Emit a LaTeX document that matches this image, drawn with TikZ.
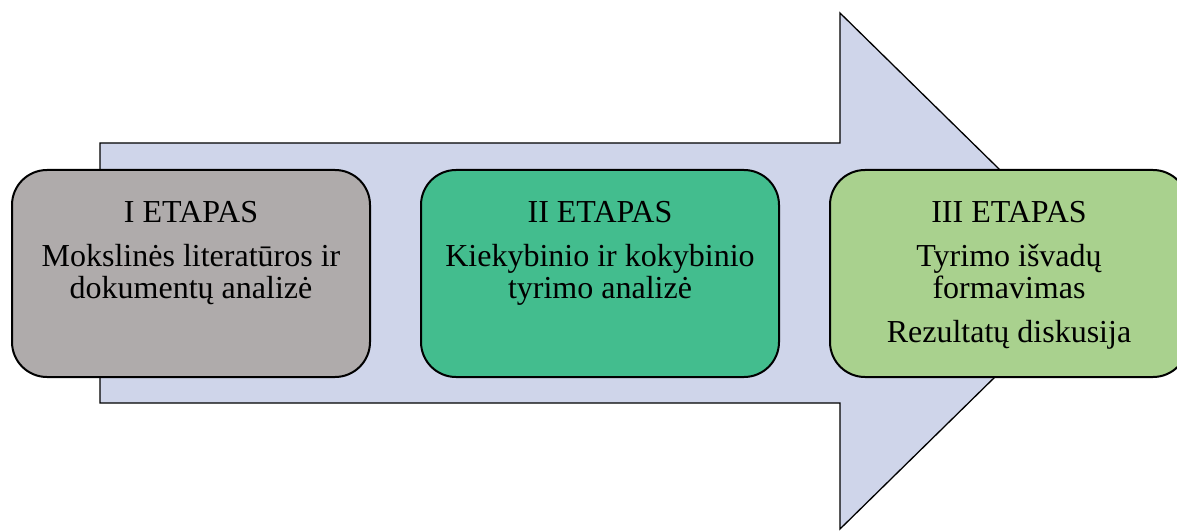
\documentclass[tikz,border=0pt]{standalone}
\usepackage{fontspec}
\setmainfont{Liberation Serif}
\usetikzlibrary{positioning}

\definecolor{arrowfill}{HTML}{CFD5EA}
\definecolor{stageone}{HTML}{AFABAB}
\definecolor{stagetwo}{HTML}{43BD8E}
\definecolor{stagethree}{HTML}{A9D18E}

\tikzset{
    stage/.style={draw, line width=1pt, rounded corners=17.5pt,
        minimum width=179pt, minimum height=103.5pt, inner sep=0pt},
    stagetext/.style={anchor=north, align=center, inner sep=0pt,
        font=\fontsize{16}{16}\selectfont}
}

\begin{document}
\begin{tikzpicture}[x=0.5pt, y=0.5pt]
    \useasboundingbox (0,0) rectangle (1177,531);

    % Big arrow behind the stages
    \draw[line width=0.65pt, fill=arrowfill]
        (100,388) -- (840,388) -- (840,518) -- (1103,260)
        -- (840,2) -- (840,128) -- (100,128) -- cycle;

    % Stage I
    \node[stage, fill=stageone] (s1) at (191,257.5) {};
    \node[stagetext, below=16pt of s1.north] (t1)
        {I ETAPAS\\[6pt] Mokslinės literatūros ir\\ dokumentų analizė};

    % Stage II
    \node[stage, fill=stagetwo] (s2) at (600,257.5) {};
    \node[stagetext, below=16pt of s2.north] (t2)
        {II ETAPAS\\[6pt] Kiekybinio ir kokybinio\\ tyrimo analizė};

    % Stage III
    \node[stage, fill=stagethree] (s3) at (1009,257.5) {};
    \node[stagetext, below=16pt of s3.north] (t3)
        {III ETAPAS\\[6pt] Tyrimo išvadų\\ formavimas\\[6pt] Rezultatų diskusija};
\end{tikzpicture}
\end{document}
